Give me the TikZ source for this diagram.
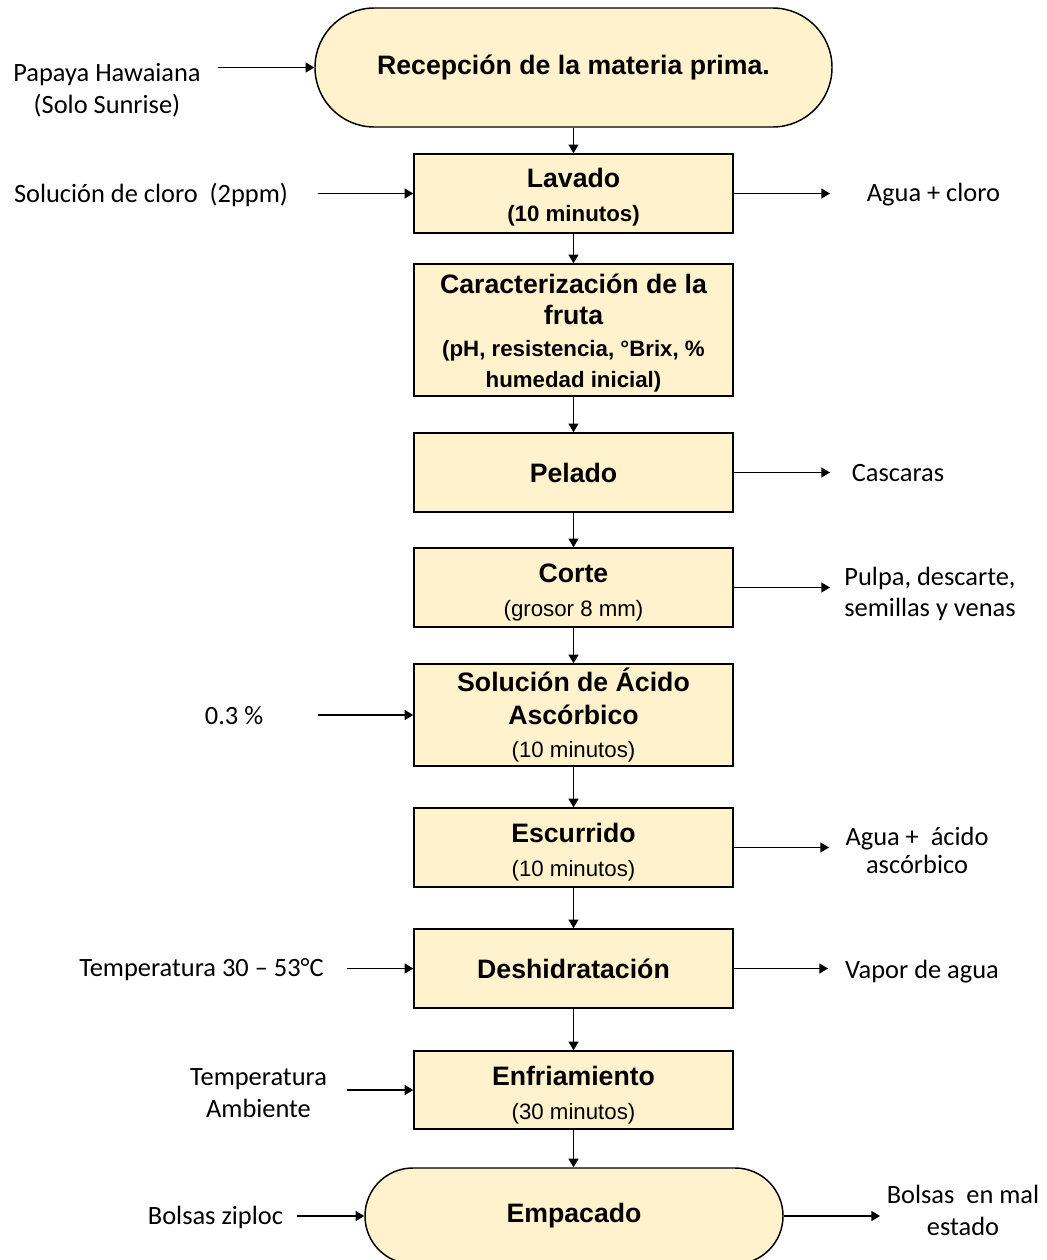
\documentclass[tikz,border=0pt]{standalone}
\usepackage{fontspec}
\setmainfont{Carlito}
\newfontfamily\arialfont{Liberation Sans}
\usetikzlibrary{arrows.meta}
\definecolor{stagefill}{HTML}{FFF2CC}

% box text: bold title size with a chosen line pitch; smaller size for detail lines
\newcommand\boxsize[1]{\arialfont\fontsize{20}{#1}\selectfont}
\newcommand\detail{\fontsize{16.7}{20}\selectfont}
\newcommand\sidesize[1]{\fontsize{19.8}{#1}\selectfont}
% invisible strut that lets the first line of a stacked label sit a little lower
\newcommand\topstrut[1]{\rule{0pt}{#1}}

\begin{document}
\begin{tikzpicture}[x=0.75pt,y=-0.75pt,
  stagebox/.style={draw=black, line width=1.1pt, fill=stagefill,
    minimum width=239.25pt, minimum height=59.25pt, align=center, inner sep=0pt,
    font=\boxsize{25.5}},
  flow/.style={line width=1pt, -{Triangle[length=6.5pt,width=7.5pt]}},
  side/.style={align=center, inner sep=0pt, font=\sidesize{24}}]

\useasboundingbox (0,0) rectangle (1046,1260);
\clip (0,0) rectangle (1046,1260);
\fill[white] (0,0) rectangle (1046,1260);

% process stages
\node[stagebox, minimum width=387.75pt, minimum height=89.25pt, rounded corners=44.5pt]
  (recep) at (573.5,67.5) {\bfseries Recepción de la materia prima.};
\node[stagebox] (lavado) at (573.5,193.5)
  {\topstrut{20pt}\bfseries Lavado\\ \bfseries\detail (10 minutos)};
\node[stagebox, minimum height=99pt, font=\boxsize{23.5}] (carac) at (573.5,330)
  {\topstrut{19pt}\bfseries Caracterización de la\\ \bfseries fruta\\
   \bfseries\detail (pH, resistencia, °Brix, \%\\ \bfseries\detail humedad inicial)};
\node[stagebox] (pelado) at (573.5,472.5) {\bfseries Pelado};
\node[stagebox] (corte) at (573.5,587.5)
  {\topstrut{21pt}\bfseries Corte\\ \detail (grosor 8 mm)};
\node[stagebox, minimum height=76.5pt, font=\boxsize{25}] (acido) at (573.5,715)
  {\bfseries Solución de Ácido\\ \bfseries Ascórbico\\ \detail (10 minutos)};
\node[stagebox] (escurrido) at (573.5,847.5)
  {\topstrut{21pt}\bfseries Escurrido\\ \detail (10 minutos)};
\node[stagebox] (deshid) at (573.5,968.5) {\bfseries Deshidratación};
\node[stagebox, minimum height=58.5pt] (enfria) at (573.5,1090)
  {\topstrut{21.5pt}\bfseries Enfriamiento\\ \detail (30 minutos)};
\node[stagebox, minimum width=313.5pt, minimum height=72pt, rounded corners=35.9pt]
  (empaque) at (574,1216) {\bfseries Empacado};

% main flow
\draw[flow] (recep.south) -- (lavado.north);
\draw[flow] (lavado.south) -- (carac.north);
\draw[flow] (carac.south) -- (pelado.north);
\draw[flow] (pelado.south) -- (corte.north);
\draw[flow] (corte.south) -- (acido.north);
\draw[flow] (acido.south) -- (escurrido.north);
\draw[flow] (escurrido.south) -- (deshid.north);
\draw[flow] (deshid.south) -- (enfria.north);
\draw[flow] (enfria.south) -- (enfria.south |- empaque.north);

% inputs
\node[side] (papaya) at (107,90) {Papaya Hawaiana\\(Solo Sunrise)};
\coordinate (inPapaya) at (218,67.5);
\draw[flow] (inPapaya) -- (recep.west);

\node[side] (cloro) at (151,195) {Solución de cloro\ \ (2ppm)};
\coordinate (inCloro) at (318,193.5);
\draw[flow] (inCloro) -- (lavado.west);

\node[side] (conc) at (234,716) {0.3 \%};
\coordinate (inConc) at (318,715);
\draw[flow] (inConc) -- (acido.west);

\node[side] (tempDes) at (201.5,970) {Temperatura 30 – 53°C};
\coordinate (inTempDes) at (347,968.5);
\draw[flow] (inTempDes) -- (deshid.west);

\node[side] (tempAmb) at (258.5,1093) {Temperatura\\Ambiente};
\coordinate (inTempAmb) at (347,1090);
\draw[flow] (inTempAmb) -- (enfria.west);

\node[side] (ziploc) at (215.5,1217) {Bolsas ziploc};
\coordinate (inZiploc) at (297,1216);
\draw[flow] (inZiploc) -- (empaque.west);

% outputs
\coordinate (outLavado) at (830,193.5);
\draw[flow] (lavado.east) -- (outLavado);
\node[side] (aguaCloro) at (933.5,195) {Agua + cloro};

\coordinate (outPelado) at (830,472.5);
\draw[flow] (pelado.east) -- (outPelado);
\node[side] (cascaras) at (898,473) {Cascaras};

\coordinate (outCorte) at (830,587.5);
\draw[flow] (corte.east) -- (outCorte);
\node[side, font=\sidesize{23.5}] (pulpa) at (930,594) {Pulpa, descarte,\\semillas y venas};

\coordinate (outEscurrido) at (829,847.5);
\draw[flow] (escurrido.east) -- (outEscurrido);
\node[side, font=\sidesize{21}] (aguaAcido) at (917,850) {Agua +\ \ ácido\\ascórbico};

\coordinate (outDeshid) at (828,968.5);
\draw[flow] (deshid.east) -- (outDeshid);
\node[side] (vapor) at (922,972) {Vapor de agua};

\coordinate (outEmpaque) at (880,1216);
\draw[flow] (empaque.east) -- (outEmpaque);
\node[side] (malEstado) at (963,1210) {Bolsas\ \ en mal\\estado};

\end{tikzpicture}
\end{document}
